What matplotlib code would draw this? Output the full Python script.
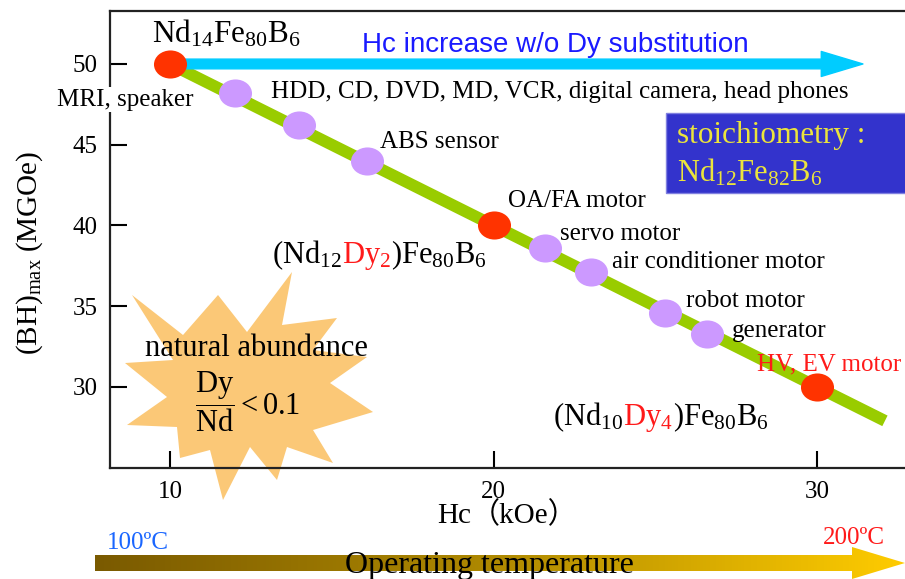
import numpy as np
import matplotlib
matplotlib.use("Agg")
import matplotlib.pyplot as plt
from matplotlib.path import Path
from matplotlib.patches import Polygon, Rectangle, FancyArrow
from matplotlib.colors import LinearSegmentedColormap

plt.rcParams['font.family'] = ['Liberation Serif', 'Noto Sans CJK JP']
plt.rcParams['mathtext.fontset'] = 'custom'
plt.rcParams['mathtext.rm'] = 'Liberation Serif'
plt.rcParams['mathtext.it'] = 'Liberation Serif:italic'
plt.rcParams['mathtext.bf'] = 'Liberation Serif:bold'

# data: Hc (kOe) vs (BH)max (MGOe)
trend_hc = [10, 32.1]
trend_bh = [50, 27.9]

key_hc = [10, 20, 30]
key_bh = [50, 40, 30]

app_hc = [12.0, 14.0, 16.1, 21.6, 23.0, 25.3, 26.6]
app_bh = [48.2, 46.2, 44.0, 38.6, 37.1, 34.6, 33.3]

x_ticks = [10, 20, 30]
y_ticks = [30, 35, 40, 45, 50]

# application labels: (text, hc, bh, colour)
app_labels = [
    ("MRI, speaker", 6.5, 47.4, 'black'),
    ("HDD, CD, DVD, MD, VCR, digital camera, head phones", 13.12, 47.9, 'black'),
    ("ABS sensor", 16.49, 44.8, 'black'),
    ("OA/FA motor", 20.45, 41.15, 'black'),
    ("servo motor", 22.06, 39.1, 'black'),
    ("air conditioner motor", 23.66, 37.37, 'black'),
    ("robot motor", 25.95, 34.95, 'black'),
    ("generator", 27.37, 33.1, 'black'),
    ("HV, EV motor", 28.15, 31.05, '#ff1a1a'),
]

RED = '#ff3300'
PURPLE = '#cc99ff'
GREEN = '#99cc00'
SERIF = 'Liberation Serif'

fig = plt.figure(figsize=(9.05, 5.79), dpi=100)

# background layer in pixel coordinates
bg = fig.add_axes([0, 0, 1, 1], zorder=0)
bg.set_xlim(0, 905)
bg.set_ylim(579, 0)
bg.axis('off')

# starburst
tips = [(132, 295), (218, 295), (292, 272), (337, 318), (367, 357), (373, 412),
        (333, 463), (277, 480), (223, 500), (180, 458), (127, 425), (125, 363)]
notches = [(183, 335), (247, 332), (282, 325), (313, 350), (330, 383), (313, 430),
           (287, 447), (250, 447), (210, 450), (177, 427), (167, 397), (173, 360)]
star = []
for t, n in zip(tips, notches):
    star.append(t)
    star.append(n)
bg.add_patch(Polygon(star, closed=True, facecolor='#fbc877', edgecolor='none'))

# stoichiometry box
bg.add_patch(Rectangle((666, 113), 245, 80, facecolor='#3333cc',
                       edgecolor='#8080e0', lw=1))

# operating temperature arrow with gradient
arrow = FancyArrow(95, 563, 810, 0, width=16, head_width=32, head_length=53,
                   length_includes_head=True, facecolor='none', edgecolor='none')
bg.add_patch(arrow)
cmap = LinearSegmentedColormap.from_list('temp', ['#7a5a00', '#b08a00', '#ffcc00'])
grad = bg.imshow(np.linspace(0, 1, 256).reshape(1, -1), extent=(95, 905, 580, 546),
                 aspect='auto', cmap=cmap, zorder=1)
grad.set_clip_path(arrow)
bg.set_xlim(0, 905)
bg.set_ylim(579, 0)

bg.text(107, 543, "100ºC", color='#1a66ff', fontsize=18, va='center', ha='left')
bg.text(823, 538, "200ºC", color='#ff1a1a', fontsize=18, va='center', ha='left')
bg.text(345, 565, "Operating temperature", color='black', fontsize=23,
        va='center', ha='left', zorder=3)

# main axes
ax = fig.add_axes([110 / 905, 1 - 468 / 579, 1 - 110 / 905, 457 / 579], zorder=1)
ax.patch.set_alpha(0)
ax.set_xlim(8.145, 32.72)
ax.set_ylim(24.98, 53.28)

ax.plot(trend_hc, trend_bh, color=GREEN, lw=8.5, solid_capstyle='butt', zorder=2)

circ = Path.unit_circle()
oval = Path(circ.vertices * np.array([1.0, 0.85]), circ.codes)

# cyan arrow
ax.annotate('', xy=(31.42, key_bh[0]), xytext=(key_hc[0], key_bh[0]),
            arrowprops=dict(arrowstyle='simple,head_length=30,head_width=18,tail_width=7',
                            mutation_scale=1, color='#00ccff', shrinkA=0, shrinkB=0),
            zorder=2)
ax.text(15.93, 50.74, "Hc increase w/o Dy substitution", family='Liberation Sans',
        color='#1a1aff', fontsize=20, va='baseline', ha='left')

ax.plot(app_hc, app_bh, ls='none', marker=oval, ms=23.8, color=PURPLE,
        mec='none', zorder=4)
ax.plot(key_hc, key_bh, ls='none', marker=oval, ms=23.8, color=RED,
        mec='none', zorder=4)

for txt, x, y, c in app_labels:
    kw = {}
    if txt.startswith("MRI"):
        kw['bbox'] = dict(facecolor='white', edgecolor='none', pad=1)
    ax.text(x, y, txt, color=c, fontsize=18, va='baseline', ha='left',
            zorder=5, clip_on=False, **kw)


def formula(x, y, parts, size, **kw):
    t = ax.text(x, y, parts[0][0], color=parts[0][1], fontsize=size,
                va='baseline', ha='left', zorder=5, **kw)
    for s, c in parts[1:]:
        t = ax.annotate(s, xy=(1, y), xycoords=(t, 'data'), color=c,
                        fontsize=size, va='baseline', ha='left', zorder=5)
    return t


formula(9.44, 51.3, [(r'$\mathrm{Nd_{14}Fe_{80}B_6}$', 'black')], 22.5)
formula(13.15, 37.68, [(r'$\mathrm{(Nd_{12}}$', 'black'),
                       (r'$\mathrm{Dy_2}$', '#ff1a1a'),
                       (r'$\mathrm{)Fe_{80}B_6}$', 'black')], 22)
formula(21.84, 27.65, [(r'$\mathrm{(Nd_{10}}$', 'black'),
                       (r'$\mathrm{Dy_4}$', '#ff1a1a'),
                       (r'$\mathrm{)Fe_{80}B_6}$', 'black')], 22)

ax.text(25.67, 45.1, "stoichiometry :", color='#ebe43c', fontsize=22.5,
        va='baseline', ha='left', zorder=5)
formula(25.67, 42.7, [(r'$\mathrm{Nd_{12}Fe_{82}B_6}$', '#ebe43c')], 22)

ax.text(9.23, 31.9, "natural abundance", fontsize=22, va='baseline', ha='left', zorder=5)
ax.text(10.77, 29.07, r'$\dfrac{\mathrm{Dy}}{\mathrm{Nd}}\mathrm{<0.1}$', fontsize=22,
        va='center', ha='left', zorder=5)

ax.set_xticks(x_ticks, labels=[str(v) for v in x_ticks], fontfamily=SERIF, fontsize=18)
ax.set_yticks(y_ticks, labels=[str(v) for v in y_ticks], fontfamily=SERIF, fontsize=18)
ax.tick_params(direction='in', length=12, width=1.5, pad=9,
               top=False, right=False)
for side in ['left', 'top', 'bottom']:
    ax.spines[side].set_linewidth(1.6)
    ax.spines[side].set_color('#222222')
ax.spines['right'].set_visible(False)

# x label: "Hc" followed by full-width brackets
hc = ax.text(0.411, -0.12, "Hc", transform=ax.transAxes, fontsize=21,
             family=SERIF, va='baseline', ha='left')
ax.annotate("（kOe）", xy=(1, -0.12), xycoords=(hc, 'axes fraction'),
            xytext=(0, 0), textcoords='offset points', fontsize=21,
            va='baseline', ha='left', annotation_clip=False)

ax.set_ylabel(r'$\mathrm{(BH)_{max}}$ (MGOe)', fontsize=21)
ax.yaxis.set_label_coords(-0.082, 0.47)

fig.savefig('out.png', dpi=100)
